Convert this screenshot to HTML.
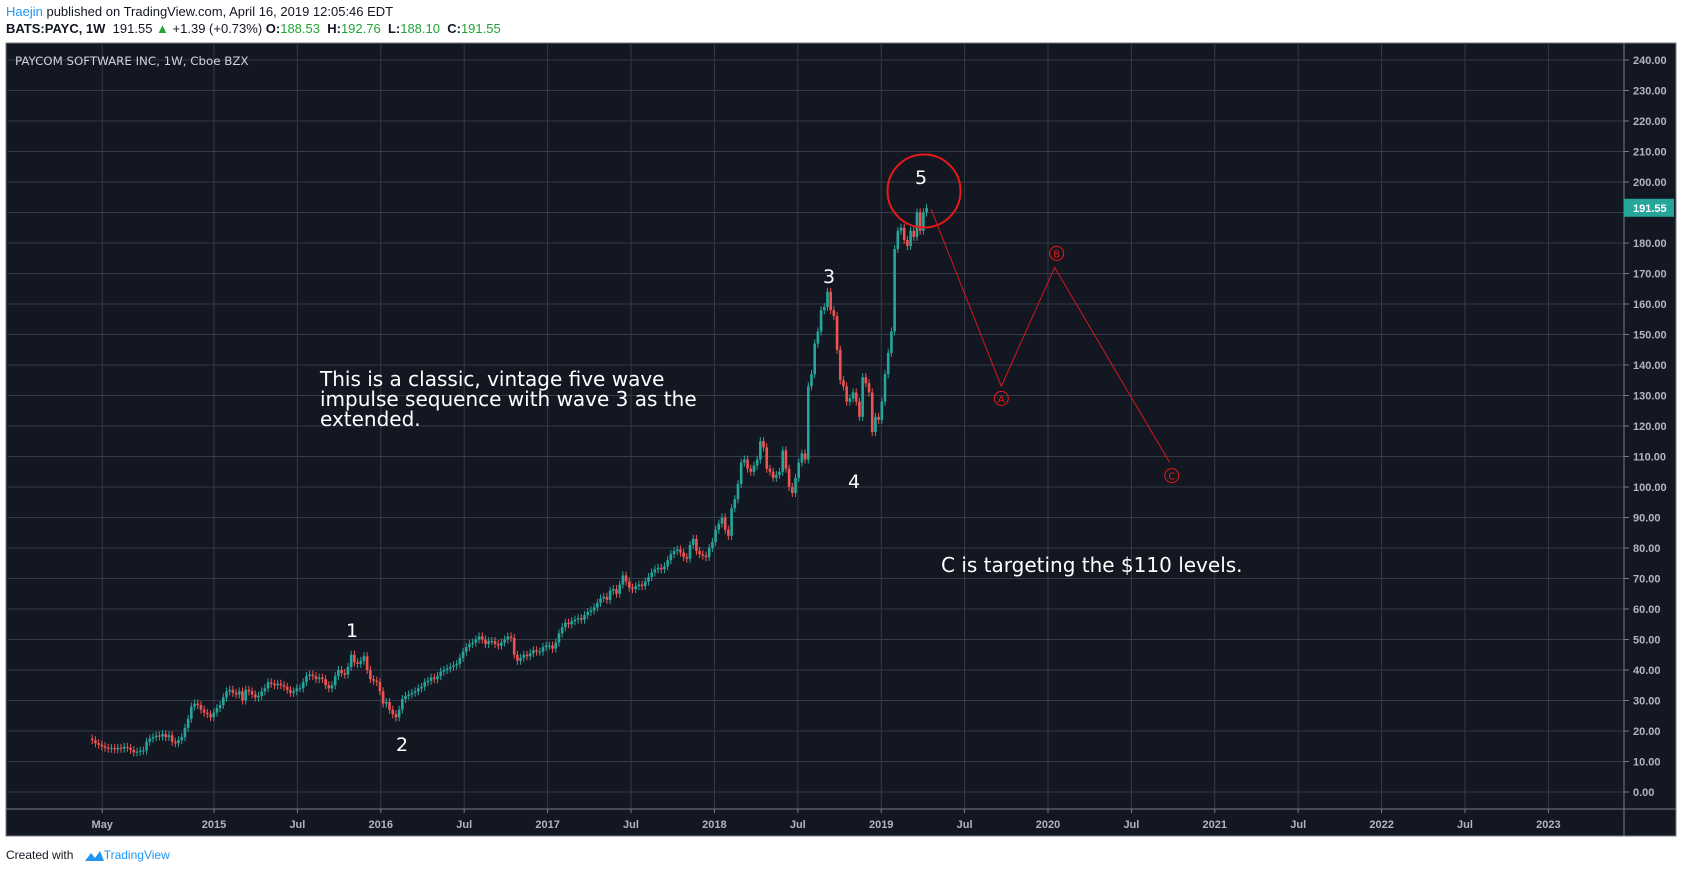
<!DOCTYPE html>
<html><head><meta charset="utf-8">
<style>
body{margin:0;background:#fff;width:1682px;height:873px;overflow:hidden;font-family:"Liberation Sans",sans-serif}
.hdr{position:absolute;left:6px;font-size:13px;color:#131722;white-space:nowrap}
svg{position:absolute;left:0;top:0}
</style></head><body>
<div class="hdr" style="top:4px"><span style="color:#2196f3">Haejin</span> published on TradingView.com, April 16, 2019 12:05:46 EDT</div>
<div class="hdr" style="top:21px"><b>BATS:PAYC, 1W</b>&nbsp; 191.55 <span style="color:#21a336">▲</span> +1.39 (+0.73%) <b>O:</b><span style="color:#21a336">188.53</span> &nbsp;<b>H:</b><span style="color:#21a336">192.76</span> &nbsp;<b>L:</b><span style="color:#21a336">188.10</span> &nbsp;<b>C:</b><span style="color:#21a336">191.55</span></div>
<svg id="chart" width="1682" height="873"></svg>
<div class="hdr" style="top:848px;font-size:12px">Created with <span style="display:inline-block;width:27px"></span><span style="color:#2196f3">TradingView</span></div>
<svg width="22" height="14" style="left:83px;top:849px"><path d="M2 12 L8 4 L12 9 L17 2 L21 12 Z" fill="#2196f3"/></svg>
<script>
const closes=[17,16,15.5,15,14.5,14.2,14.4,14,14.5,14.2,14.8,14.5,13.8,13,13.2,13.5,13.6,16.5,17.5,18,18.5,18.2,19,18,18.6,16.5,16,17,18,21,24,28,29,28.5,27,26,25.5,24.5,26,27.5,28.5,31,33,33.5,32.5,32,33,30,33.5,33,32,31,31.5,33,34,36,35.5,35,35.5,35,34.5,33.5,32.5,33,34,34,36,38,38.5,38,37,37.5,37,35,34,35,38,40,39,38.5,41,45,42.5,42,43,44.5,40,37,36.5,36,33,29,29.5,27,25.5,24.5,27,30.5,31.5,32,32.5,33,34,34.5,36,36.5,37.5,37,38,39.5,40,40.5,41,41.5,42,44,46,47.5,48.5,49,50,51,50,48.5,49.5,49.5,48.5,48,49,50,51,50.5,45,43,44,45,44.5,45.5,46.5,46,46,47.5,48,48,47,49,52,54,55.5,55,56,56.5,57,56.5,58,59,59.5,60.5,62,63.5,64,63,66,66.5,65,68,71,69,67,66.5,67.5,68,67.5,69,70.5,72,73,73.5,73,74,76,78,79,79.5,78.5,77,76.5,81,83,79,78,77.5,77,80,82,86,88,90,86,84,93,96,101,108,109,106,105,107,109,115,113,106,105,103,104,105,112,106,100,98,103,108,111,109,133,137,147,151,158,159,164,158,156,145,135,133,128,129,131,128,123,136,134,131,118,123,122,128,137,144,151,178,184,185,181,179,184,182,190,184,190,191.55];
const priceTicks=[0,10,20,30,40,50,60,70,80,90,100,110,120,130,140,150,160,170,180,190,200,210,220,230,240];
const timeLabels=["May","2015","Jul","2016","Jul","2017","Jul","2018","Jul","2019","Jul","2020","Jul","2021","Jul","2022","Jul","2023"];
const timeTickYears=[2014.33,2015,2015.5,2016,2016.5,2017,2017.5,2018,2018.5,2019,2019.5,2020,2020.5,2021,2021.5,2022,2022.5,2023];
const startYear=2014.27;
const waveA=[2019.3,191],waveAp=[2019.72,133],waveBp=[2020.04,172],waveCp=[2020.73,108];

const NS="http://www.w3.org/2000/svg",svg=document.getElementById('chart');
const L=6,R=1624,T=43,B=809,RR=1676,BB=836;
const y=v=>792-v*3.05;
const x=t=>214+(t-2015)*166.8;
function el(tag,a,parent){const e=document.createElementNS(NS,tag);for(const k in a)e.setAttribute(k,a[k]);(parent||svg).appendChild(e);return e;}
const bg=el('rect',{x:L,y:T,width:RR-L,height:BB-T,fill:'#131722',stroke:'#787b86','stroke-width':1});


const grid=el('g',{});


priceTicks.forEach(v=>{
  el('line',{x1:L,x2:R,y1:y(v),y2:y(v),stroke:'#363a47','stroke-width':1},grid);
  el('line',{x1:R,x2:R+5,y1:y(v),y2:y(v),stroke:'#787b86'},grid);
  const t=el('text',{x:1633,y:y(v)+4,fill:'#b2b5be','font-size':11,'font-weight':'bold','font-family':'Liberation Sans, sans-serif'});
  t.textContent=v.toFixed(2);
  
  
});
timeTickYears.forEach((yr,i)=>{
  el('line',{x1:x(yr),x2:x(yr),y1:T,y2:B,stroke:'#363a47'},grid);
  el('line',{x1:x(yr),x2:x(yr),y1:B,y2:B+4,stroke:'#787b86'},grid);
  const t=el('text',{x:x(yr),y:828,fill:'#b2b5be','font-size':11,'font-weight':'bold','text-anchor':'middle','font-family':'Liberation Sans, sans-serif'});
  t.textContent=timeLabels[i];
  
  
});
el('line',{x1:R,x2:R,y1:T,y2:BB,stroke:'#787b86'});
el('line',{x1:L,x2:RR,y1:B,y2:B,stroke:'#787b86'});
const title=el('text',{x:15,y:65,fill:'#d1d4dc','font-size':11.8,'font-family':'DejaVu Sans, sans-serif'});
title.textContent='PAYCOM SOFTWARE INC, 1W, Cboe BZX';


const cg=el('g',{});


closes.forEach((c,i)=>{
  const o=i?closes[i-1]:c+0.5, up=c>=o, col=up?'#26a69a':'#ef5350';
  const cx=x(startYear+i*7/365.25);
  const top=y(Math.max(o,c)),bot=y(Math.min(o,c));
  el('line',{x1:cx,x2:cx,y1:top-4,y2:bot+4,stroke:col,'stroke-width':1},cg);
  const r=el('rect',{x:cx-1.3,y:top,width:2.6,height:Math.max(1,bot-top),fill:col},cg);
  
  
});
const lp=closes[closes.length-1];
const tag=el('rect',{x:R,y:y(lp)-9,width:50,height:18,fill:'#26a69a'});


const tt=el('text',{x:1633,y:y(lp)+4,fill:'#fff','font-size':11,'font-weight':'bold','font-family':'Liberation Sans, sans-serif'});
tt.textContent=lp.toFixed(2);
[['1',352,637],['2',402,751],['3',829,283],['4',854,488],['5',921,184]].forEach(w=>{
  const t=el('text',{x:w[1],y:w[2],fill:'#fff','font-size':19,'text-anchor':'middle','font-family':'DejaVu Sans, sans-serif'});
  t.textContent=w[0];
  
  
});
const circ=el('circle',{cx:924,cy:191,r:36.5,fill:'none',stroke:'#e61919','stroke-width':2});


const pts=[waveA,waveAp,waveBp,waveCp].map(p=>[x(p[0]),y(p[1])]);
const pl=el('polyline',{points:pts.map(p=>p.join(',')).join(' '),fill:'none',stroke:'#d21919','stroke-width':1});


[['A',pts[1][0],pts[1][1]+12],['B',pts[2][0]+2,pts[2][1]-14],['C',pts[3][0]+2,pts[3][1]+13]].forEach(w=>{
  const g=el('g',{});
  
  
  el('circle',{cx:w[1],cy:w[2],r:7,fill:'none',stroke:'#e61919','stroke-width':1},g);
  const t=el('text',{x:w[1],y:w[2]+4,fill:'#e61919','font-size':10,'text-anchor':'middle','font-family':'DejaVu Sans, sans-serif'},g);
  t.textContent=w[0];
});
const note=el('text',{x:320,y:386,fill:'#fff','font-size':20,'font-family':'DejaVu Sans, sans-serif'});


['This is a classic, vintage five wave','impulse sequence with wave 3 as the','extended.'].forEach((s,i)=>{const ts=el('tspan',{x:320,dy:i?20:0},note);ts.textContent=s;});
const note2=el('text',{x:941,y:572,fill:'#fff','font-size':20,'font-family':'DejaVu Sans, sans-serif'});
note2.textContent='C is targeting the $110 levels.';


</script>
</body></html>
